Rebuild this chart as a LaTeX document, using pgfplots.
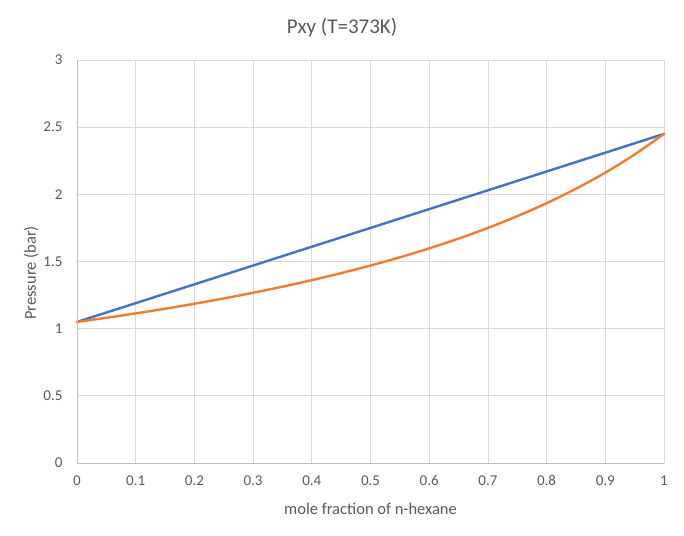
\documentclass[border=0pt]{standalone}
\usepackage{pgfplots}
\pgfplotsset{compat=1.18}
\usepackage{fontspec}
\setmainfont{Carlito}
\definecolor{txtgray}{RGB}{89,89,89}
\definecolor{gridgray}{RGB}{217,217,217}
\definecolor{axgray}{RGB}{191,191,191}
\definecolor{xlblue}{RGB}{68,114,196}
\definecolor{xlorange}{RGB}{237,125,49}
\begin{document}
\begin{tikzpicture}[x=1pt,y=1pt]
\useasboundingbox (0,0) rectangle (684,535);
\begin{axis}[
  at={(77pt,72pt)}, anchor=south west,
  scale only axis, width=587pt, height=403pt,
  xmin=0, xmax=1, ymin=0, ymax=3,
  xtick={0,0.1,...,1}, ytick={0,0.5,...,3},
  xticklabels={0,0.1,0.2,0.3,0.4,0.5,0.6,0.7,0.8,0.9,1},
  yticklabels={0,0.5,1,1.5,2,2.5,3},
  grid=major, major grid style={gridgray, line width=0.75pt},
  axis line style={draw=none},
  axis x line*=bottom, axis y line*=left,
  tick style={draw=none},
  ticklabel style={font=\fontsize{15}{17}\selectfont, text=txtgray},
  xticklabel style={yshift=-9pt},
  yticklabel style={xshift=-11pt},
  /pgf/number format/assume math mode=true,
  clip=false,
]
\addplot[xlblue, line width=2.4pt, line cap=round] coordinates {(0,1.05) (1,2.45)};
\addplot[xlorange, line width=2.4pt, line cap=round, line join=round, smooth] coordinates {
(0,1.05) (0.05,1.0809) (0.1,1.1136) (0.15,1.1484) (0.2,1.1855) (0.25,1.2250)
(0.3,1.2672) (0.35,1.3125) (0.4,1.3611) (0.45,1.4135) (0.5,1.4700)
(0.55,1.5312) (0.6,1.5978) (0.65,1.6705) (0.7,1.7500) (0.75,1.8375)
(0.8,1.9342) (0.85,2.0417) (0.9,2.1618) (0.95,2.2969) (1,2.45)};
\draw[axgray, line width=0.75pt] (axis cs:0,0) -- (axis cs:1,0);
\draw[axgray, line width=0.75pt] (axis cs:0,0) -- (axis cs:0,3);
\end{axis}
\node[text=txtgray, font=\fontsize{21}{25}\selectfont] at (342,507) {Pxy (T=373K)};
\node[text=txtgray, font=\fontsize{16.5}{19}\selectfont] at (370.5,26) {mole fraction of n-hexane};
\node[text=txtgray, font=\fontsize{16.5}{19}\selectfont, rotate=90] at (31,262) {Pressure (bar)};
\end{tikzpicture}
\end{document}
